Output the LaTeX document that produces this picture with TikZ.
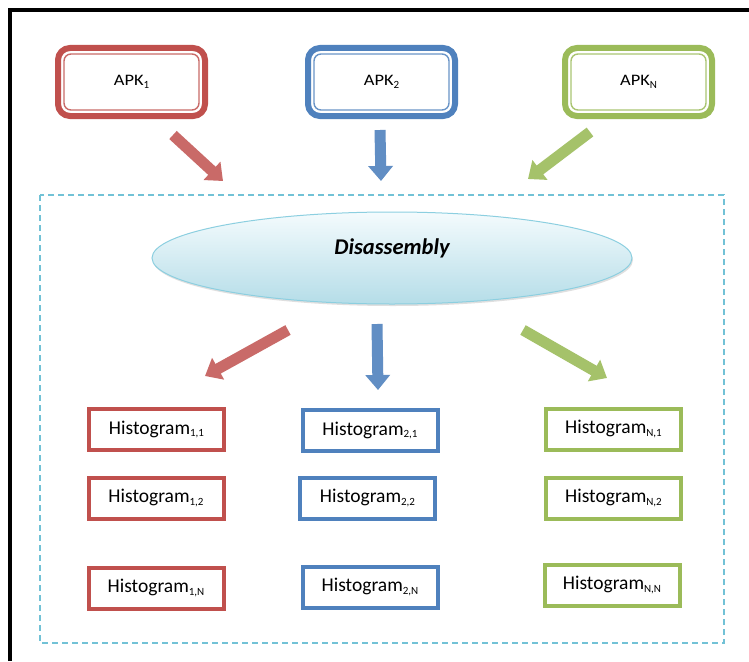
\documentclass[tikz,border=0pt]{standalone}
\usepackage{fontspec}
\setmainfont{Carlito}
\usetikzlibrary{arrows.meta,shapes.geometric,calc,shadows}
\definecolor{cred}{HTML}{C0504D}
\definecolor{cblue}{HTML}{4F81BD}
\definecolor{cgreen}{HTML}{9BBB59}
\definecolor{ccyan}{HTML}{72C2D6}
\definecolor{ellborder}{HTML}{8CCFE0}
\definecolor{elltop}{HTML}{F4FBFD}
\definecolor{ellbot}{HTML}{B5DDE8}
\newcommand\sbx[1]{\raisebox{-0.15em}{\fontsize{11}{12}\selectfont #1}}
\tikzset{
  apkbox/.style={draw=#1, line width=6pt, rounded corners=12pt, outer sep=0pt,
    minimum width=147pt, minimum height=68pt, inner sep=0pt, fill=white,
    font=\fontsize{16}{18}\selectfont},
  apkinner/.style={draw=#1, line width=1.4pt, rounded corners=7pt},
  histbox/.style={draw=#1, line width=4pt, fill=white, outer sep=0pt,
    minimum width=135pt, minimum height=41pt, inner sep=0pt,
    font=\fontsize{19.5}{21}\selectfont},
  bigarrow/.style={draw=#1, line width=11pt, -{Triangle[width=24pt,length=15pt]}},
  frame/.style={line width=4pt, draw=black},
  region/.style={draw=ccyan, line width=1.3pt, dash pattern=on 6pt off 4pt},
}
\begin{document}
\begin{tikzpicture}[x=1pt,y=-1pt]
\useasboundingbox (0,0) rectangle (749,661);
\fill[white] (0,0) rectangle (749,661);
\draw[frame] (10,661) -- (10,10) -- (749,10);
\draw[region] (40,195) rectangle (724,643);

% APK boxes
\node[apkbox=cred]   (apk1) at (131.5,82) {\raisebox{3pt}{\scalebox{1.15}[1]{APK}\sbx{1}}};
\node[apkbox=cblue]  (apk2) at (381.5,82) {\raisebox{3pt}{\scalebox{1.15}[1]{APK}\sbx{2}}};
\node[apkbox=cgreen] (apkn) at (638.5,82) {\raisebox{3pt}{\scalebox{1.15}[1]{APK}\sbx{N}}};
\foreach \n/\c in {apk1/cred, apk2/cblue, apkn/cgreen}{
  \draw[apkinner=\c!85] ($(\n.south west)+(6,-6)$) rectangle ($(\n.north east)+(-6,6)$);
}

% Disassembly ellipse
\node[ellipse, draw=ellborder, line width=1pt, top color=elltop, bottom color=ellbot,
  minimum width=480pt, minimum height=92pt, inner sep=0pt,
  drop shadow={shadow xshift=1pt, shadow yshift=-2pt, opacity=0.25}]
  (dis) at (392,258) {\raisebox{22pt}{\fontsize{22.5}{24}\selectfont\bfseries\itshape Disassembly}};

% arrows top
\coordinate (t1) at (173,135); \coordinate (h1) at (223,181);
\coordinate (t2) at (380,130); \coordinate (h2) at (381,181);
\coordinate (t3) at (590,132); \coordinate (h3) at (528,179);
\draw[bigarrow=cred!85]   (t1) -- (h1);
\draw[bigarrow=cblue!90]  (t2) -- (h2);
\draw[bigarrow=cgreen!90] (t3) -- (h3);

% arrows bottom
\coordinate (u1) at (288,330); \coordinate (v1) at (205,376);
\coordinate (u2) at (377,324); \coordinate (v2) at (378,390);
\coordinate (u3) at (523,330); \coordinate (v3) at (607,378);
\draw[bigarrow=cred!85]   (u1) -- (v1);
\draw[bigarrow=cblue!90]  (u2) -- (v2);
\draw[bigarrow=cgreen!90] (u3) -- (v3);

% histograms
\node[histbox=cred] (r1) at (156.5,429.5) {Histogram\sbx{1,1}};
\node[histbox=cred] (r2) at (156,498)     {Histogram\sbx{1,2}};
\node[histbox=cred] (r3) at (156,588)     {Histogram\sbx{1,N}};
\node[histbox=cblue] (b1) at (370,430.5)  {Histogram\sbx{2,1}};
\node[histbox=cblue] (b2) at (367.5,498)  {Histogram\sbx{2,2}};
\node[histbox=cblue] (b3) at (370,587)    {Histogram\sbx{2,N}};
\node[histbox=cgreen] (g1) at (613.5,429) {Histogram\sbx{N,1}};
\node[histbox=cgreen] (g2) at (613.5,498) {Histogram\sbx{N,2}};
\node[histbox=cgreen] (g3) at (612,585)   {Histogram\sbx{N,N}};
\end{tikzpicture}
\end{document}
